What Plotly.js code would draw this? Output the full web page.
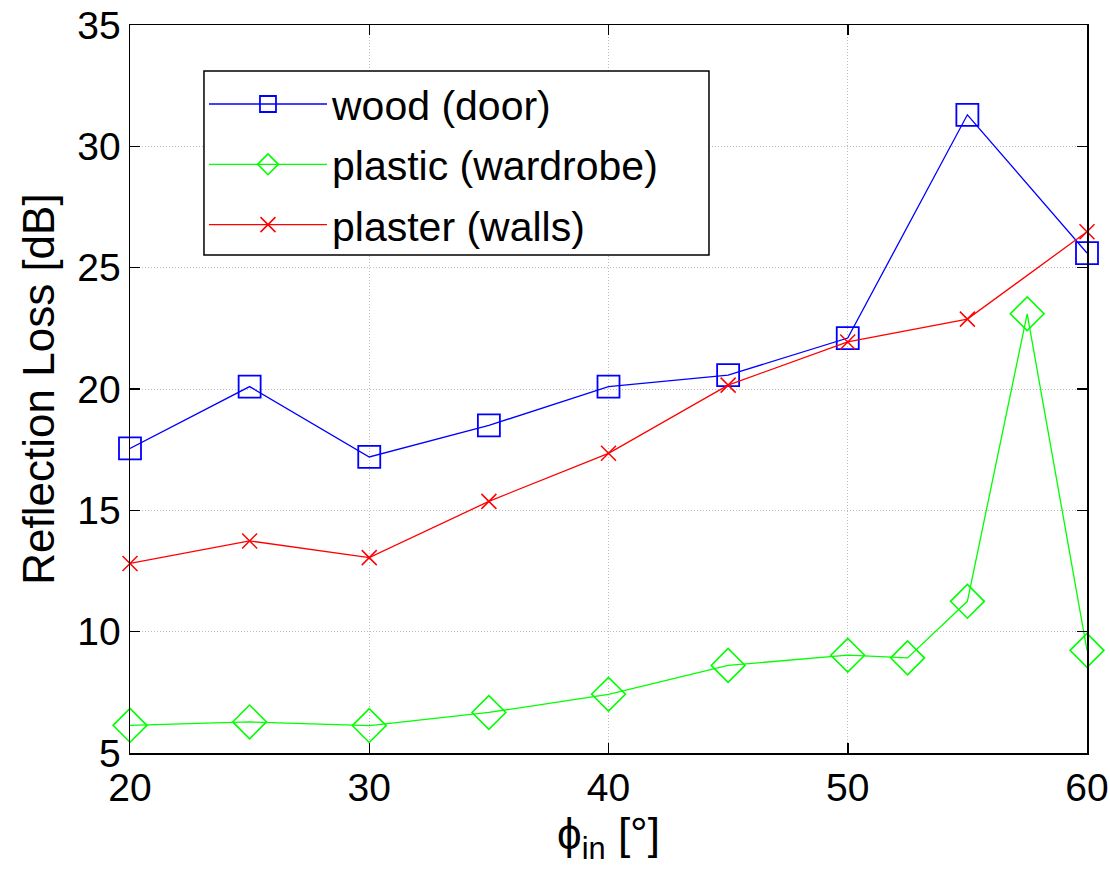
<!DOCTYPE html>
<html>
<head>
<meta charset="utf-8">
<script src="https://cdn.plot.ly/plotly-3.0.1.min.js"></script>
<style>html,body{margin:0;padding:0;background:#fff;}#chart{width:1110px;height:870px;}</style>
</head>
<body>
<div id="chart"></div>
<script>
// Incidence angles
const woodAngles = [20, 25, 30, 35, 40, 45, 50, 55, 60];
const woodLoss = [17.55, 20.1, 17.2, 18.5, 20.1, 20.57, 22.1, 31.3, 25.6];

const plasticAngles = [20, 25, 30, 35, 40, 45, 50, 52.5, 55, 57.5, 60];
const plasticLoss = [6.14, 6.28, 6.13, 6.67, 7.42, 8.61, 9.03, 8.92, 11.25, 23.1, 9.23];

const plasterAngles = [20, 25, 30, 35, 40, 45, 50, 55, 60];
const plasterLoss = [12.81, 13.74, 13.05, 15.37, 17.35, 20.16, 21.94, 22.88, 26.48];

const seriesNames = ["wood (door)", "plastic (wardrobe)", "plaster (walls)"];
const xTicks = [20, 30, 40, 50, 60];
const yTicks = [5, 10, 15, 20, 25, 30, 35];

const FONT = "Arial, 'Liberation Sans', Helvetica, sans-serif";

const traces = [
  {
    x: woodAngles, y: woodLoss, name: seriesNames[0], type: "scatter", mode: "lines+markers",
    legendgroup: "a",
    line: {color: "#0000ff", width: 1.3},
    marker: {symbol: "square-open", size: 22, color: "#0000ff", line: {color: "#0000ff", width: 1.8}},
    cliponaxis: false
  },
  {
    x: plasticAngles, y: plasticLoss, name: seriesNames[1], type: "scatter", mode: "lines+markers",
    legendgroup: "b",
    line: {color: "#00ff00", width: 1.3},
    marker: {symbol: "diamond-open", size: 26, color: "#00ff00", line: {color: "#00ff00", width: 1.6}},
    cliponaxis: false
  },
  {
    x: plasterAngles, y: plasterLoss, name: seriesNames[2], type: "scatter", mode: "lines+markers",
    legendgroup: "c",
    line: {color: "#ff0000", width: 1.3},
    marker: {symbol: "x-thin-open", size: 15, color: "#ff0000", line: {color: "#ff0000", width: 1.5}},
    cliponaxis: false
  }
];

const axisCommon = {
  showline: true, linecolor: "#000", linewidth: 1.5, mirror: "ticks",
  ticks: "inside", ticklen: 10, tickwidth: 1.5, tickcolor: "#000",
  showgrid: true, gridcolor: "#bdbdbd", gridwidth: 1, griddash: "1px,2px",
  zeroline: false,
  tickfont: {family: FONT, size: 39, color: "#000"}
};

const layout = {
  width: 1110, height: 870,
  margin: {l: 130, r: 23, t: 25, b: 117},
  paper_bgcolor: "#fff", plot_bgcolor: "#fff",
  showlegend: true,
  legend: {
    x: 0.0773, y: 0.937, xanchor: "left", yanchor: "top",
    bgcolor: "rgba(0,0,0,0)", borderwidth: 0,
    traceorder: "grouped", tracegroupgap: 4,
    font: {family: FONT, size: 41, color: "#000"},
    itemwidth: 118
  },
  shapes: [{
    type: "rect", xref: "paper", yref: "paper", layer: "above",
    x0: 0.0773, x1: 0.6050, y0: 0.6841, y1: 0.9368,
    line: {color: "#000", width: 1.5}, fillcolor: "#fff"
  }],
  xaxis: Object.assign({}, axisCommon, {
    range: [20, 60], tickvals: xTicks, ticktext: xTicks.map(String),
    title: {text: "ϕ<sub>in</sub> [°]", font: {family: FONT, size: 44, color: "#000"}, standoff: 6}
  }),
  yaxis: Object.assign({}, axisCommon, {
    range: [5, 35], tickvals: yTicks, ticktext: yTicks.map(String),
    title: {text: "Reflection Loss [dB]", font: {family: FONT, size: 44, color: "#000"}, standoff: 9}
  })
};

Plotly.newPlot("chart", traces, layout, {displayModeBar: false, staticPlot: true});
</script>
</body>
</html>
